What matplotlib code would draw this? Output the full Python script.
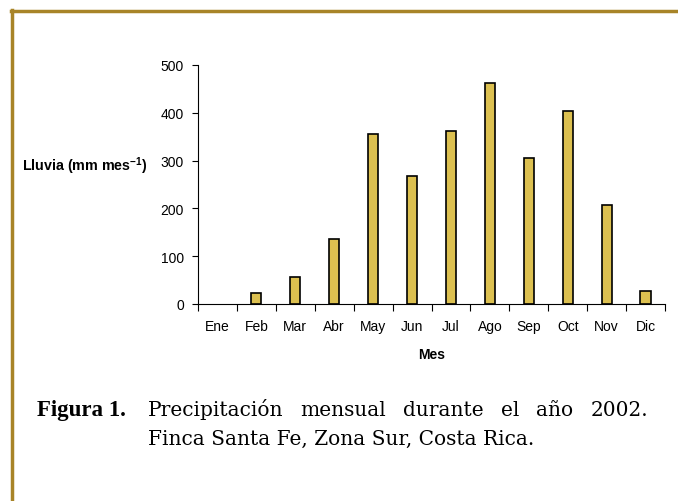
import numpy as np
import matplotlib.pyplot as plt
from matplotlib.lines import Line2D

# monthly rainfall 2002 (mm)
meses = ['Ene', 'Feb', 'Mar', 'Abr', 'May', 'Jun', 'Jul', 'Ago', 'Sep', 'Oct', 'Nov', 'Dic']
lluvia = [0, 24, 56, 136, 356, 267, 361, 463, 306, 403, 207, 27]

plt.rcParams['font.family'] = ['Liberation Sans', 'DejaVu Sans']
plt.rcParams['mathtext.fontset'] = 'custom'
plt.rcParams['mathtext.rm'] = 'Liberation Sans'
plt.rcParams['mathtext.bf'] = 'Liberation Sans:bold'

fig = plt.figure(figsize=(6.78, 5.02), dpi=100)
ax = fig.add_axes([198 / 678, 1 - 305 / 502, 467 / 678, 239 / 502])

x = np.arange(len(meses))
lw = [1.2 if v > 0 else 0 for v in lluvia]
ax.bar(x, lluvia, width=0.26, color='#DCC050', edgecolor='black', linewidth=lw)

ax.set_xlim(-0.5, len(meses) - 0.5)
ax.set_ylim(0, 500)
ax.set_yticks([0, 100, 200, 300, 400, 500])
ax.set_xticks(np.arange(len(meses) + 1) - 0.5)
ax.set_xticklabels([])
ax.set_xticks(x, minor=True)
ax.set_xticklabels(meses, minor=True)
ax.tick_params(axis='x', which='minor', length=0, pad=11, labelsize=10)
ax.tick_params(axis='x', which='major', length=5, direction='out', width=0.8)
ax.tick_params(axis='y', length=4, direction='out', width=0.8, labelsize=10, pad=6)
for s in ['top', 'right']:
    ax.spines[s].set_visible(False)

ax.set_xlabel('Mes', fontweight='bold', fontsize=10, labelpad=10)
fig.text(22 / 678, 1 - 166 / 502, r'Lluvia (mm mes$^{\mathbf{-1}}$)', fontweight='bold',
         fontsize=10.3, va='center', ha='left')

# gold frame
gold = '#A88428'
fig.add_artist(Line2D([12 / 678, 12 / 678], [0, 1 - 11 / 502], color=gold, lw=2.5,
                      transform=fig.transFigure))
fig.add_artist(Line2D([11 / 678, 1], [1 - 12 / 502, 1 - 12 / 502], color=gold, lw=2.5,
                      transform=fig.transFigure))

# caption
fig.text(37 / 678, 1 - 416 / 502, 'Figura 1.', family='Liberation Serif', fontweight='bold',
         fontsize=16.5, va='baseline')

# first caption line justified between 148 and 648 px
words = 'Precipitación mensual durante el año 2002.'.split()
renderer = fig.canvas.get_renderer()
txts = [fig.text(0, 1 - 416 / 502, w, family='DejaVu Serif', fontsize=14.5, va='baseline')
        for w in words]
widths = [t.get_window_extent(renderer).width for t in txts]
gap = (500 - sum(widths)) / (len(words) - 1)
pos = 148
for t, w in zip(txts, widths):
    t.set_x(pos / 678)
    pos += w + gap

fig.text(148 / 678, 1 - 445 / 502, 'Finca Santa Fe, Zona Sur, Costa Rica.',
         family='DejaVu Serif', fontsize=14.5, va='baseline')

fig.savefig('out.png', dpi=100)
